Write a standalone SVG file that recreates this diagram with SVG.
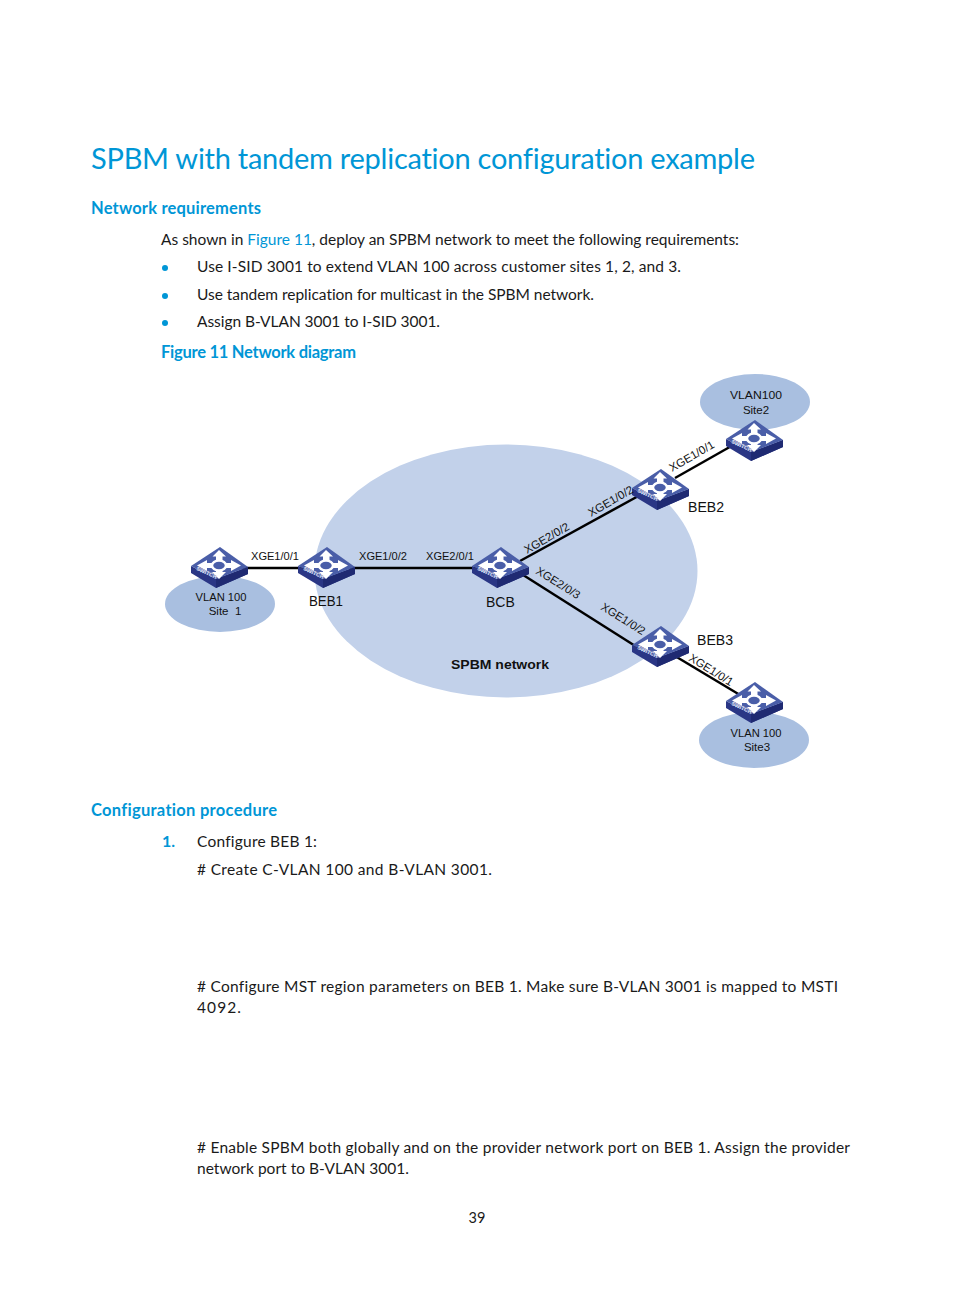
<svg xmlns="http://www.w3.org/2000/svg" width="954" height="1296" viewBox="0 0 954 1296">
<style>
text{font-family:"Lato","Open Sans","Liberation Sans",sans-serif;fill:#1a1a1a;font-variant-ligatures:none}
.b{font-size:15.500px}
.h{font-size:16.500px;font-weight:700;fill:#0096d6}
.c{font-family:"Liberation Sans",Arial,sans-serif;font-size:11.500px;fill:#111}
.n{font-family:"Liberation Sans",Arial,sans-serif;font-size:14px;fill:#111}
.v{font-family:"Liberation Sans",Arial,sans-serif;font-size:11.500px;fill:#111;text-anchor:middle}
.w{font-family:"Liberation Sans",Arial,sans-serif;font-size:5.500px;font-weight:700;fill:#e4e8f6}
.l{stroke:#000;stroke-width:2.500;fill:none}
.dot{fill:#0096d6}
</style>
<defs>
<g id="sw">
<path d="M-29-1L-4 12L28 0L28 7L-4 21L-29 6Z" fill="#2a3685"/>
<path d="M-4 12L28 0L28 7L-4 21Z" fill="#1f2a72"/>
<path d="M-29-1L0-20L28 0L-4 12Z" fill="#4a5ea8"/>
<path d="M-1-17L6-10.500L2.500-10.500L2.500-6L-4-6L-4-10.500L-7.500-10.500ZM-23-1.500L-13-7L-13-4L-6-4L-6 1L-13 1L-13 4ZM21-1.500L11-7L11-4L5-4L5 1L11 1L11 4ZM-1 12L-8 5L-4 5L-4 2L2.500 2L2.500 5L6 5Z" fill="#fff"/>
<ellipse cx="-1" cy="-1.500" rx="7" ry="5" fill="#4a5ea8" stroke="#fff" stroke-width="2.500"/>
<text class="w" transform="translate(-24 3) rotate(24)">SWITCH</text>
</g>
</defs>

<text x="91" y="168.500" font-size="29" style="fill:#0096d6;font-weight:400" textLength="664" lengthAdjust="spacing">SPBM with tandem replication configuration example</text>
<text class="h" x="91" y="213.500" textLength="170" lengthAdjust="spacing">Network requirements</text>
<text class="b" x="161" y="245" textLength="578" lengthAdjust="spacing">As shown in <tspan style="fill:#0096d6">Figure 11</tspan>, deploy an SPBM network to meet the following requirements:</text>
<circle class="dot" cx="165" cy="268" r="3"/>
<text class="b" x="197" y="272" textLength="484" lengthAdjust="spacing">Use I-SID 3001 to extend VLAN 100 across customer sites 1, 2, and 3.</text>
<circle class="dot" cx="165" cy="296" r="3"/>
<text class="b" x="197" y="300" textLength="397" lengthAdjust="spacing">Use tandem replication for multicast in the SPBM network.</text>
<circle class="dot" cx="165" cy="323" r="3"/>
<text class="b" x="197" y="327" textLength="243" lengthAdjust="spacing">Assign B-VLAN 3001 to I-SID 3001.</text>
<text class="h" x="161" y="357.500" textLength="195" lengthAdjust="spacing">Figure 11 Network diagram</text>

<g id="clouds">
<ellipse cx="506" cy="571" rx="191.500" ry="126.500" fill="#c2d1ea"/>
<ellipse cx="220" cy="604" rx="55" ry="28" fill="#a9bfe0"/>
<ellipse cx="755" cy="402" rx="55" ry="28" fill="#a9bfe0"/>
<ellipse cx="754" cy="740" rx="55" ry="28" fill="#a9bfe0"/>
</g>

<g id="connectors">
<path class="l" d="M240 568H305"/>
<path class="l" d="M350 568H480"/>
<path class="l" d="M520 561L642 494"/>
<path class="l" d="M520 573L640 649"/>
<path class="l" d="M675 478L735 444"/>
<path class="l" d="M675 656L740 695"/>
</g>

<g id="site1"><use href="#sw" x="220" y="567"/><text class="v" x="221" y="601" textLength="51" lengthAdjust="spacingAndGlyphs">VLAN 100</text><text class="v" x="225" y="615" xml:space="preserve">Site  1</text></g>
<g id="beb1"><use href="#sw" x="327" y="567"/><text class="n" x="309" y="606" textLength="34" lengthAdjust="spacingAndGlyphs">BEB1</text></g>
<g id="bcb"><use href="#sw" x="501" y="567"/><text class="n" x="486" y="607">BCB</text></g>
<g id="beb2"><use href="#sw" x="661" y="489"/><text class="n" x="688" y="512" textLength="36" lengthAdjust="spacingAndGlyphs">BEB2</text></g>
<g id="beb3"><use href="#sw" x="661" y="646"/><text class="n" x="697" y="645" textLength="36" lengthAdjust="spacingAndGlyphs">BEB3</text></g>
<g id="site2"><use href="#sw" x="755" y="440"/><text class="v" x="756" y="399" textLength="52" lengthAdjust="spacingAndGlyphs">VLAN100</text><text class="v" x="756" y="414">Site2</text></g>
<g id="site3"><use href="#sw" x="755" y="702"/><text class="v" x="756" y="737" textLength="51" lengthAdjust="spacingAndGlyphs">VLAN 100</text><text class="v" x="757" y="751">Site3</text></g>
<g id="spbm"><text x="500" y="669" text-anchor="middle" style="font-family:'Liberation Sans',Arial,sans-serif;font-size:13.500px;font-weight:700;fill:#111" textLength="98" lengthAdjust="spacingAndGlyphs">SPBM network</text></g>

<g id="labels">
<text class="c" x="251" y="560" textLength="48" lengthAdjust="spacingAndGlyphs">XGE1/0/1</text>
<text class="c" x="359" y="560" textLength="48" lengthAdjust="spacingAndGlyphs">XGE1/0/2</text>
<text class="c" x="426" y="560" textLength="48" lengthAdjust="spacingAndGlyphs">XGE2/0/1</text>
<text class="c" transform="translate(527 554) rotate(-30)">XGE2/0/2</text>
<text class="c" transform="translate(591 517) rotate(-30)">XGE1/0/2</text>
<text class="c" transform="translate(672 472) rotate(-30)">XGE1/0/1</text>
<text class="c" transform="translate(535 573) rotate(32)">XGE2/0/3</text>
<text class="c" transform="translate(600 609) rotate(32)">XGE1/0/2</text>
<text class="c" transform="translate(688 660) rotate(32)">XGE1/0/1</text>
</g>

<text class="h" x="91" y="815.500" textLength="186" lengthAdjust="spacing">Configuration procedure</text>
<text class="h" x="162" y="847" style="font-size:16px">1.</text>
<text class="b" x="197" y="847" textLength="120" lengthAdjust="spacing">Configure BEB 1:</text>
<text class="b" x="197" y="875" textLength="295" lengthAdjust="spacing"># Create C-VLAN 100 and B-VLAN 3001.</text>
<text class="b" x="197" y="992" textLength="641" lengthAdjust="spacing"># Configure MST region parameters on BEB 1. Make sure B-VLAN 3001 is mapped to MSTI</text>
<text class="b" x="197" y="1013" textLength="44" lengthAdjust="spacing">4092.</text>
<text class="b" x="197" y="1153" textLength="653" lengthAdjust="spacing"># Enable SPBM both globally and on the provider network port on BEB 1. Assign the provider</text>
<text class="b" x="197" y="1174" textLength="212" lengthAdjust="spacing">network port to B-VLAN 3001.</text>
<text x="477" y="1223" text-anchor="middle" style="font-size:14.500px">39</text>
</svg>
